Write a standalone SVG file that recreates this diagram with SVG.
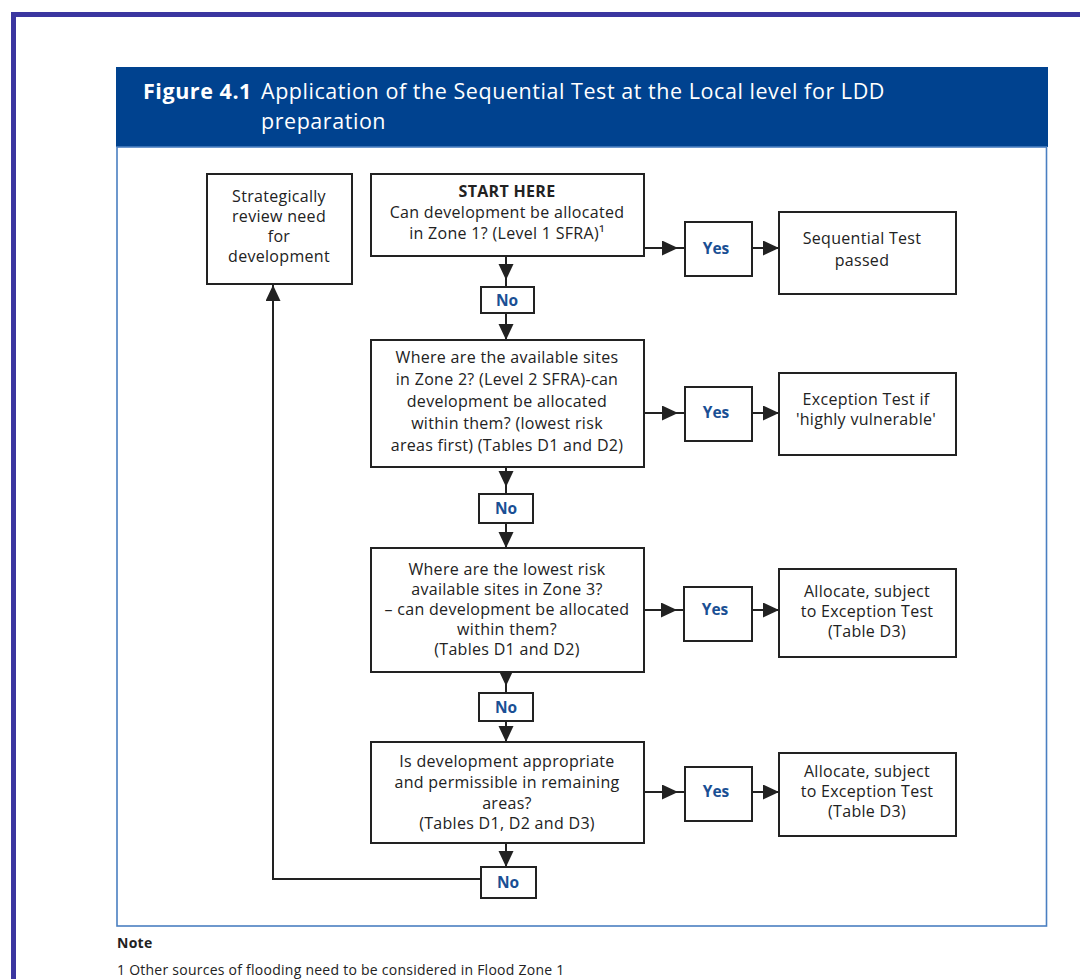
<svg xmlns="http://www.w3.org/2000/svg" width="1080" height="979" viewBox="0 0 1080 979">
<style>
.box{fill:#fff;stroke:#222;stroke-width:2}
.t{font-family:"Open Sans",Lato,"Liberation Sans",sans-serif;font-size:16px;fill:#222;text-anchor:middle;letter-spacing:0.3px}
.lab{font-family:"Open Sans",Lato,"Liberation Sans",sans-serif;font-size:15.5px;font-weight:bold;fill:#1a4f94;text-anchor:middle}
.ln{fill:none;stroke:#222;stroke-width:2}
.hd{font-family:"Open Sans",Lato,"Liberation Sans",sans-serif;font-size:21.5px;fill:#fff;letter-spacing:0.55px}
.nt{font-family:"Open Sans",Lato,"Liberation Sans",sans-serif;font-size:14px;fill:#222;letter-spacing:0.25px}
</style>
<defs>
<marker id="arr" markerUnits="userSpaceOnUse" markerWidth="18" markerHeight="16" refX="16" refY="7.5" orient="auto"><path d="M0,0 L16,7.5 L0,15 z" fill="#222"/></marker>
<marker id="arrG" markerUnits="userSpaceOnUse" markerWidth="26" markerHeight="16" refX="23" refY="7.5" orient="auto"><path d="M0,0 L16,7.5 L0,15 z" fill="#222"/></marker>
</defs>
<rect width="1080" height="979" fill="#fff"/>
<rect x="13.5" y="14.5" width="1080" height="980" fill="none" stroke="#3b36a0" stroke-width="5"/>
<g id="header">
<rect x="116" y="67" width="932" height="80" fill="#00428f"/>
<text class="hd" x="143" y="99" font-weight="bold" letter-spacing="-0.3">Figure 4.1</text>
<text class="hd" x="261" y="99">Application of the Sequential Test at the Local level for LDD</text>
<text class="hd" x="261" y="129">preparation</text>
</g>
<rect x="117" y="147" width="929.5" height="779" fill="none" stroke="#4a7fc1" stroke-width="1.6"/>
<g id="connectors">
<line class="ln" x1="506" y1="256" x2="506" y2="287" marker-end="url(#arrG)"/>
<line class="ln" x1="506" y1="313" x2="506" y2="340" marker-end="url(#arr)"/>
<line class="ln" x1="506" y1="467" x2="506" y2="494" marker-end="url(#arrG)"/>
<line class="ln" x1="506" y1="523" x2="506" y2="548" marker-end="url(#arr)"/>
<line class="ln" x1="506" y1="672" x2="506" y2="693" marker-end="url(#arrG)"/>
<line class="ln" x1="506" y1="721" x2="506" y2="742" marker-end="url(#arr)"/>
<line class="ln" x1="506" y1="843" x2="506" y2="867" marker-end="url(#arr)"/>
<polyline class="ln" points="481,879 273,879 273,285" marker-end="url(#arr)"/>
<line class="ln" x1="644" y1="248" x2="685" y2="248" marker-end="url(#arrG)"/>
<line class="ln" x1="752" y1="248" x2="779" y2="248" marker-end="url(#arr)"/>
<line class="ln" x1="644" y1="413" x2="685" y2="413" marker-end="url(#arrG)"/>
<line class="ln" x1="752" y1="413" x2="779" y2="413" marker-end="url(#arr)"/>
<line class="ln" x1="644" y1="610" x2="684" y2="610" marker-end="url(#arrG)"/>
<line class="ln" x1="752" y1="610" x2="779" y2="610" marker-end="url(#arr)"/>
<line class="ln" x1="644" y1="792" x2="685" y2="792" marker-end="url(#arrG)"/>
<line class="ln" x1="752" y1="792" x2="779" y2="792" marker-end="url(#arr)"/>
</g>
<g id="review">
<rect class="box" x="207" y="174" width="145" height="110"/>
<text class="t" x="279" y="202">Strategically</text>
<text class="t" x="279" y="222">review need</text>
<text class="t" x="279" y="242">for</text>
<text class="t" x="279" y="262">development</text>
</g>
<g id="start">
<rect class="box" x="371" y="174" width="273" height="82"/>
<text class="t" x="507" y="197" font-weight="bold">START HERE</text>
<text class="t" x="507" y="218">Can development be allocated</text>
<text class="t" x="507" y="239">in Zone 1? (Level 1 SFRA)¹</text>
</g>
<g id="zone2">
<rect class="box" x="371" y="340" width="273" height="127"/>
<text class="t" x="507" y="363">Where are the available sites</text>
<text class="t" x="507" y="385">in Zone 2? (Level 2 SFRA)-can</text>
<text class="t" x="507" y="407">development be allocated</text>
<text class="t" x="507" y="429">within them? (lowest risk</text>
<text class="t" x="507" y="451">areas first) (Tables D1 and D2)</text>
</g>
<g id="zone3">
<rect class="box" x="371" y="548" width="273" height="124"/>
<text class="t" x="507" y="575">Where are the lowest risk</text>
<text class="t" x="507" y="595">available sites in Zone 3?</text>
<text class="t" x="507" y="615">– can development be allocated</text>
<text class="t" x="507" y="635">within them?</text>
<text class="t" x="507" y="655">(Tables D1 and D2)</text>
</g>
<g id="remaining">
<rect class="box" x="371" y="742" width="273" height="101"/>
<text class="t" x="507" y="767">Is development appropriate</text>
<text class="t" x="507" y="788">and permissible in remaining</text>
<text class="t" x="507" y="809">areas?</text>
<text class="t" x="507" y="829">(Tables D1, D2 and D3)</text>
</g>
<g id="no1"><rect class="box" x="481" y="287" width="53" height="26"/><text class="lab" x="507" y="306">No</text></g>
<g id="no2"><rect class="box" x="479" y="494" width="54" height="29"/><text class="lab" x="506" y="514">No</text></g>
<g id="no3"><rect class="box" x="479" y="693" width="54" height="28"/><text class="lab" x="506" y="713">No</text></g>
<g id="no4"><rect class="box" x="481" y="867" width="55" height="31"/><text class="lab" x="508" y="888">No</text></g>
<g id="yes1"><rect class="box" x="685" y="222" width="67" height="54"/><text class="lab" x="716" y="254">Yes</text></g>
<g id="yes2"><rect class="box" x="685" y="387" width="67" height="54"/><text class="lab" x="716" y="418">Yes</text></g>
<g id="yes3"><rect class="box" x="684" y="587" width="68" height="54"/><text class="lab" x="715" y="615">Yes</text></g>
<g id="yes4"><rect class="box" x="685" y="767" width="67" height="54"/><text class="lab" x="716" y="797">Yes</text></g>
<g id="passed">
<rect class="box" x="779" y="212" width="177" height="82"/>
<text class="t" x="862" y="244">Sequential Test</text>
<text class="t" x="862" y="266">passed</text>
</g>
<g id="exception">
<rect class="box" x="779" y="373" width="177" height="82"/>
<text class="t" x="866" y="405">Exception Test if</text>
<text class="t" x="866" y="425">'highly vulnerable'</text>
</g>
<g id="allocate1">
<rect class="box" x="779" y="569" width="177" height="88"/>
<text class="t" x="867" y="597">Allocate, subject</text>
<text class="t" x="867" y="617">to Exception Test</text>
<text class="t" x="867" y="637">(Table D3)</text>
</g>
<g id="allocate2">
<rect class="box" x="779" y="753" width="177" height="83"/>
<text class="t" x="867" y="777">Allocate, subject</text>
<text class="t" x="867" y="797">to Exception Test</text>
<text class="t" x="867" y="817">(Table D3)</text>
</g>
<g id="note">
<text class="nt" x="117" y="948" font-weight="bold">Note</text>
<text class="nt" x="117" y="975">1 Other sources of flooding need to be considered in Flood Zone 1</text>
</g>
</svg>
